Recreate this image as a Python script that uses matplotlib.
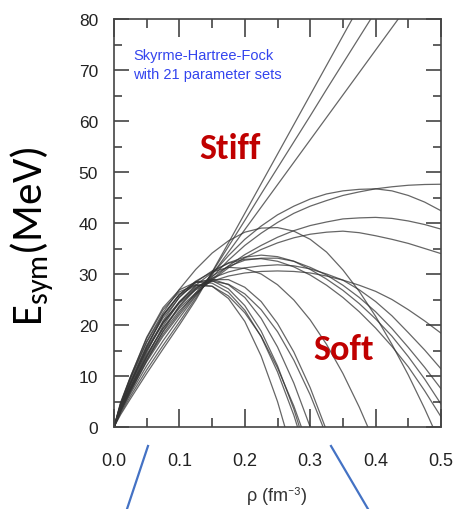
import numpy as np
import matplotlib
matplotlib.use('Agg')
import matplotlib.pyplot as plt
from matplotlib.lines import Line2D
from matplotlib.ticker import MultipleLocator, FormatStrFormatter

nan = float('nan')

# density grid (fm^-3)
rho = [0, 0.01, 0.025, 0.05, 0.075, 0.1, 0.125, 0.15, 0.175, 0.2, 0.225,
       0.25, 0.275, 0.3, 0.325, 0.35, 0.375, 0.4, 0.425, 0.45, 0.475, 0.5]

# stiff parametrizations
stiff_1 = [0, 2.4, 5.5, 10.5, 15.3, 20.0, 24.9, 30.4, 36.1, 41.9, 47.7, 53.5, 59.3, 65.1, 70.9, 76.7, 82.5, nan, nan, nan, nan, nan]
stiff_2 = [0, 2.7, 6.0, 11.2, 16.0, 20.6, 25.3, 30.3, 35.4, 40.5, 45.7, 50.8, 55.9, 61.0, 66.2, 71.3, 76.4, 81.5, nan, nan, nan, nan]
stiff_3 = [0, 3.0, 6.5, 12.0, 16.9, 21.4, 25.7, 29.9, 34.3, 38.7, 43.1, 47.5, 51.9, 56.3, 60.7, 65.1, 69.5, 73.9, 78.3, 82.7, nan, nan]
# high saturating parametrizations
high_1 = [0, 3.2, 7.0, 12.8, 17.8, 22.0, 25.9, 29.4, 32.7, 35.6, 38.0, 40.1, 41.9, 43.3, 44.4, 45.4, 46.1, 46.7, 47.1, 47.4, 47.55, 47.6]
high_2 = [0, 3.3, 7.2, 13.2, 18.2, 22.4, 26.3, 30.0, 33.6, 36.8, 39.4, 41.6, 43.3, 44.7, 45.7, 46.3, 46.6, 46.7, 46.3, 45.4, 44.1, 42.4]
high_3 = [0, 3.4, 7.4, 13.6, 18.7, 22.8, 26.1, 29.0, 31.6, 33.8, 35.6, 37.2, 38.5, 39.5, 40.2, 40.8, 41.0, 41.1, 40.9, 40.4, 39.7, 38.8]
high_4 = [0, 3.6, 7.8, 14.2, 19.3, 23.3, 26.3, 28.8, 31.2, 33.2, 34.8, 36.1, 37.1, 37.8, 38.2, 38.4, 38.1, 37.5, 36.8, 36.0, 35.0, 34.0]
high_5 = [0, 4.5, 9.6, 16.8, 22.4, 27.0, 30.9, 34.1, 36.5, 38.2, 39.0, 39.1, 38.4, 36.8, 34.3, 30.8, 26.6, 21.7, 16.2, 10.2, 3.6, -3.5]
# intermediate parametrizations
mid_1 = [0, 3.8, 8.2, 15.0, 20.3, 24.3, 26.9, 28.6, 29.6, 30.2, 30.5, 30.6, 30.5, 30.2, 29.6, 28.8, 27.8, 26.6, 25.0, 23.0, 20.8, 18.4]
mid_2 = [0, 4.0, 8.6, 15.4, 20.6, 24.5, 27.3, 29.2, 30.4, 31.2, 31.6, 31.8, 31.6, 31.0, 30.0, 28.8, 26.9, 24.6, 21.8, 18.5, 15.1, 11.4]
mid_3 = [0, 3.5, 7.6, 13.9, 19.4, 23.6, 27.0, 29.6, 31.5, 32.7, 33.1, 33.1, 32.5, 31.3, 29.8, 27.8, 25.4, 22.6, 19.3, 15.6, 11.7, 7.5]
mid_4 = [0, 3.9, 8.4, 15.0, 20.4, 24.6, 27.8, 30.3, 32.2, 33.3, 33.7, 33.4, 32.5, 30.9, 29.0, 26.8, 24.2, 21.2, 17.8, 13.8, 9.4, 4.5]
mid_5 = [0, 4.2, 9.0, 16.0, 21.4, 25.4, 28.4, 30.6, 32.1, 32.9, 33.0, 32.5, 31.4, 29.8, 27.8, 25.4, 22.6, 19.4, 15.8, 11.8, 7.1, 2.0]
mid_6 = [0, 4.4, 9.4, 16.6, 22.0, 26.0, 28.6, 30.4, 31.3, 31.1, 30.0, 27.9, 24.9, 21.0, 16.2, 10.5, 3.9, -3.5, nan, nan, nan, nan]
# soft parametrizations
soft_1 = [0, 4.0, 8.6, 15.6, 21.8, 25.9, 27.8, 27.6, 25.2, 20.7, 13.9, 5.0, -6.0, nan, nan, nan, nan, nan, nan, nan, nan, nan]
soft_2 = [0, 4.6, 9.8, 17.6, 23.4, 26.9, 28.4, 28.2, 26.4, 22.9, 17.7, 10.8, 2.3, -7.9, nan, nan, nan, nan, nan, nan, nan, nan]
soft_3 = [0, 4.0, 8.6, 15.8, 21.9, 26.0, 28.5, 28.7, 27.1, 23.8, 18.8, 12.0, 3.5, -6.8, nan, nan, nan, nan, nan, nan, nan, nan]
soft_4 = [0, 4.8, 9.8, 17.4, 23.0, 26.5, 27.9, 27.6, 25.7, 22.4, 17.8, 11.6, 4.1, -4.8, nan, nan, nan, nan, nan, nan, nan, nan]
soft_5 = [0, 3.6, 7.8, 14.6, 20.8, 25.5, 28.3, 29.0, 27.9, 25.4, 21.3, 15.7, 8.6, 0.0, -10.1, nan, nan, nan, nan, nan, nan, nan]
soft_6 = [0, 3.3, 7.3, 13.8, 19.8, 24.5, 27.6, 28.6, 28.0, 26.1, 23.0, 18.7, 13.1, 6.3, -1.7, nan, nan, nan, nan, nan, nan, nan]
soft_7 = [0, 3.0, 6.8, 13.0, 18.8, 23.8, 27.2, 28.9, 28.9, 27.4, 24.6, 20.3, 14.7, 7.7, -0.7, nan, nan, nan, nan, nan, nan, nan]

curves = [stiff_1, stiff_2, stiff_3, high_1, high_2, high_3, high_4, high_5,
          mid_1, mid_2, mid_3, mid_4, mid_5, mid_6,
          soft_1, soft_2, soft_3, soft_4, soft_5, soft_6, soft_7]

x_ticks = [0.0, 0.1, 0.2, 0.3, 0.4, 0.5]
y_ticks = [0, 10, 20, 30, 40, 50, 60, 70, 80]

narrow = ['Liberation Sans Narrow', 'Liberation Sans', 'DejaVu Sans']
calib = ['Carlito', 'Lato', 'DejaVu Sans']

plt.rcParams['mathtext.fontset'] = 'custom'
plt.rcParams['mathtext.rm'] = 'Carlito'
plt.rcParams['mathtext.it'] = 'Carlito:italic'

W, H = 454, 510
fig = plt.figure(figsize=(W / 100, H / 100), dpi=100)
ax = fig.add_axes([114 / W, 82 / H, 327 / W, 408 / H])

for c in curves:
    ax.plot(rho, np.array(c, dtype=float), color='#333333', lw=0.9, alpha=0.75)

ax.set_xlim(0, 0.5)
ax.set_ylim(0, 80)
ax.set_xticks(x_ticks)
ax.set_yticks(y_ticks)
ax.xaxis.set_minor_locator(MultipleLocator(0.05))
ax.yaxis.set_minor_locator(MultipleLocator(5))
ax.xaxis.set_major_formatter(FormatStrFormatter('%.1f'))
ax.yaxis.set_major_formatter(FormatStrFormatter('%d'))
ax.tick_params(which='both', direction='in', top=True, right=True,
               color='#444444', width=1.2, labelcolor='#222222')
ax.tick_params(axis='x', which='major', length=13, pad=18, labelsize=13)
ax.tick_params(axis='x', which='minor', length=6.5)
ax.tick_params(axis='y', which='major', length=10.5, pad=11.5, labelsize=12.5)
ax.tick_params(axis='y', which='minor', length=6)
for lab in ax.get_xticklabels() + ax.get_yticklabels():
    lab.set_family(narrow)
for s in ax.spines.values():
    s.set_color('#444444')
    s.set_linewidth(1.2)

fig.text(133 / W, 1 - 49 / H, 'Skyrme-Hartree-Fock\nwith 21 parameter sets',
         ha='left', va='top', fontsize=10.5, color='#3344ee', family=narrow,
         linespacing=1.45)
fig.text(230 / W, 1 - 149 / H, 'Stiff', ha='center', va='center', fontsize=26,
         fontweight='bold', color='#C00000', family=calib)
fig.text(344 / W, 1 - 350 / H, 'Soft', ha='center', va='center', fontsize=26,
         fontweight='bold', color='#C00000', family=calib)
fig.text(32 / W, 1 - 236 / H, r'E$_{\mathrm{sym}}$(MeV)', rotation=90,
         ha='center', va='center', fontsize=31, family=calib, color='black')
fig.text(277 / W, 1 - 497 / H, r'ρ (fm$^{\mathrm{-3}}$)', ha='center', va='center',
         fontsize=13, color='#333333', family=narrow)

fig.add_artist(Line2D([148 / W, 127 / W], [1 - 447 / H, 0], color='#4472C4', lw=1.6))
fig.add_artist(Line2D([331 / W, 368 / W], [1 - 447 / H, 0], color='#4472C4', lw=1.6))

fig.savefig('out.png', dpi=100)
